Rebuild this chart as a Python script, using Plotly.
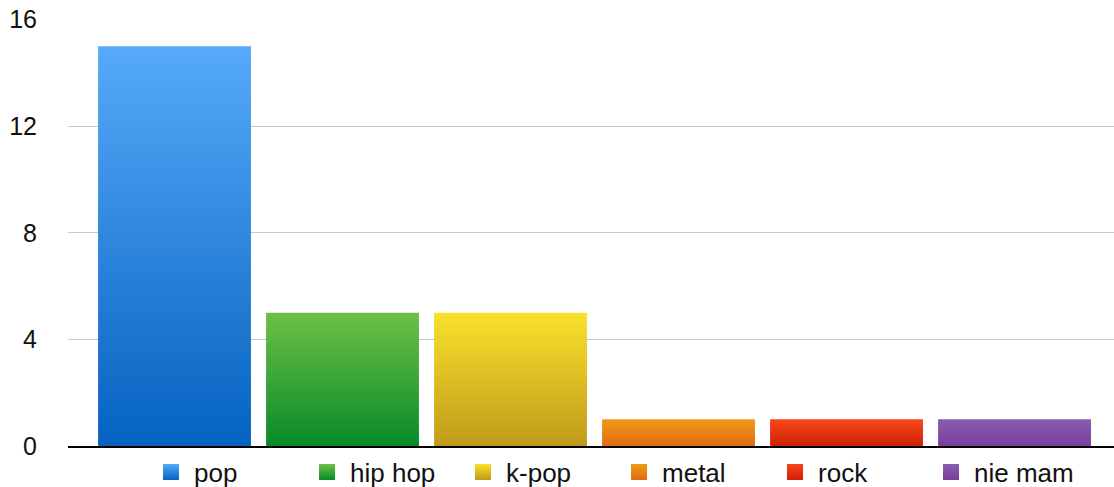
import plotly.graph_objects as go

categories = ["pop", "hip hop", "k-pop", "metal", "rock", "nie mam"]
values = [15, 5, 5, 1, 1, 1]
top_colors = ["#56AAF9", "#6DC046", "#F9E12C", "#F19A1C", "#F9461A", "#8A5DB0"]
bottom_colors = ["#0562C0", "#078A2A", "#BF9B1A", "#DF6A10", "#CE2108", "#793F9C"]
y_ticks = [0, 4, 8, 12, 16]

bar_width = 0.91
fig = go.Figure()

for i, (cat, val, ct, cb) in enumerate(zip(categories, values, top_colors, bottom_colors)):
    x0, x1 = i - bar_width / 2, i + bar_width / 2
    fig.add_trace(go.Scatter(
        x=[x0, x1, x1, x0, x0], y=[0, 0, val, val, 0],
        mode="lines", line=dict(width=0), fill="toself",
        fillgradient=dict(type="vertical", colorscale=[[0, cb], [1, ct]]),
        showlegend=False, hoverinfo="skip", legendgroup=cat,
    ))

for cat, ct, cb in zip(categories, top_colors, bottom_colors):
    fig.add_trace(go.Scatter(
        x=[None], y=[None], mode="markers", name=cat, legendgroup=cat,
        marker=dict(symbol="square", size=16, color=ct,
                    gradient=dict(type="vertical", color=cb),
                    line=dict(width=0)),
    ))

fig.update_layout(
    width=1114, height=487,
    margin=dict(l=68, r=0, t=19, b=41, autoexpand=False),
    paper_bgcolor="white", plot_bgcolor="white",
    font=dict(family="Liberation Sans, Arial, Helvetica, sans-serif", size=26, color="#111111"),
    showlegend=True,
    legend=dict(orientation="h", x=0.0765, xanchor="left", y=-0.061, yanchor="middle",
                entrywidth=105, entrywidthmode="pixels", itemwidth=36,
                font=dict(size=26, color="#111111"), bgcolor="rgba(0,0,0,0)"),
    xaxis=dict(range=[-0.634, 5.592], showticklabels=False, showgrid=False,
               zeroline=False, showline=True, linecolor="#000000", linewidth=2,
               fixedrange=True, automargin=False),
    yaxis=dict(range=[0, 16.02], tickvals=y_ticks, ticktext=[str(t) for t in y_ticks],
               showgrid=True, gridcolor="#C8C8C8", gridwidth=1, zeroline=False,
               showline=False, ticks="outside", ticklen=25, tickcolor="rgba(0,0,0,0)",
               tickfont=dict(size=25, color="#111111"), fixedrange=True, automargin=False),
)

fig.write_html(
    "out.html",
    config={"displayModeBar": False},
    post_script="document.body.style.margin='0';document.body.style.overflow='hidden';",
)
